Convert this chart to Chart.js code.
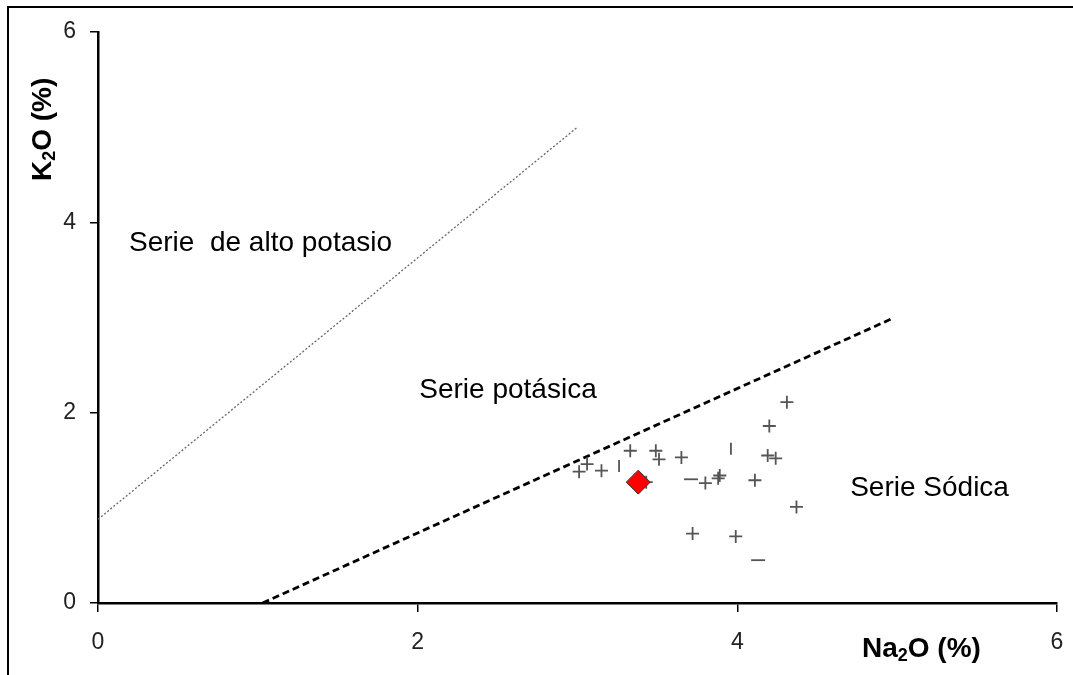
<!DOCTYPE html>
<html>
<head>
<meta charset="utf-8">
<script src="https://cdn.jsdelivr.net/npm/chart.js@4.4.1/dist/chart.umd.min.js"></script>
<style>
  html, body { margin: 0; padding: 0; background: #fff; }
  #wrap { position: relative; width: 1073px; height: 675px; }
</style>
</head>
<body>
<div id="wrap"><canvas id="c"></canvas></div>
<script>
// ---- data (Na2O %, K2O %) ----
const sampleNa2O = [4.31, 4.20, 4.19, 4.24, 3.33, 3.49, 3.51, 3.65, 3.15, 3.01, 3.06, 3.80, 3.88, 3.89, 4.11, 4.37, 3.72, 3.99, 3.43];
const sampleK2O  = [2.11, 1.86, 1.55, 1.52, 1.60, 1.60, 1.51, 1.53, 1.39, 1.38, 1.46, 1.26, 1.31, 1.34, 1.29, 1.01, 0.73, 0.70, 1.27];
const dashNa2O = [3.71, 4.13];
const dashK2O  = [1.30, 0.45];
const tickNa2O = [3.96, 3.26];
const tickK2O  = [1.62, 1.44];
const studyNa2O = [3.38];
const studyK2O  = [1.27];
const highKLineNa2O = [0, 3.0];
const highKLineK2O  = [0.88, 5.0];
const sodicLineNa2O = [1.03, 4.97];
const sodicLineK2O  = [0, 2.99];
const axisTicks = [0, 2, 4, 6];
const fieldLabels = ["Serie  de alto potasio", "Serie potásica", "Serie Sódica"];
const fieldLabelNa2O = [0.194, 2.01, 4.706];
const fieldLabelK2O  = [3.703, 2.153, 1.12];

const pts = (xs, ys) => xs.map((x, i) => ({ x: x, y: ys[i] }));

const textPlugin = {
  id: 'texts',
  beforeDraw(chart) {
    const ctx = chart.ctx;
    ctx.save();
    ctx.strokeStyle = '#000';
    ctx.lineWidth = 2;
    ctx.beginPath();
    ctx.moveTo(8, 675); ctx.lineTo(8, 7); ctx.lineTo(1073, 7);
    ctx.stroke();
    ctx.restore();
  },
  afterDraw(chart) {
    const ctx = chart.ctx;
    const xs = chart.scales.x, ys = chart.scales.y, a = chart.chartArea;
    ctx.save();
    ctx.fillStyle = '#000';
    ctx.textBaseline = 'alphabetic';
    ctx.textAlign = 'left';
    ctx.font = '28px "Liberation Sans", Arial, sans-serif';
    fieldLabels.forEach((t, i) => {
      ctx.fillText(t, xs.getPixelForValue(fieldLabelNa2O[i]), ys.getPixelForValue(fieldLabelK2O[i]));
    });
    const drawSub = (parts, x, y) => {
      let cx = x;
      parts.forEach(p => {
        ctx.font = p.sub ? 'bold 18px "Liberation Sans", Arial, sans-serif' : 'bold 28px "Liberation Sans", Arial, sans-serif';
        ctx.fillText(p.t, cx, y + (p.sub ? 4 : 0));
        cx += ctx.measureText(p.t).width;
      });
    };
    drawSub([{t: 'Na'}, {t: '2', sub: true}, {t: 'O (%)'}], a.right - 195, a.bottom + 54);
    ctx.save();
    ctx.translate(a.left - 47, a.top + 149);
    ctx.rotate(-Math.PI / 2);
    drawSub([{t: 'K'}, {t: '2', sub: true}, {t: 'O (%)'}], 0, 0);
    ctx.restore();
    ctx.restore();
  }
};

const tickFont = { family: '"Liberation Sans", Arial, sans-serif', size: 23 };

new Chart(document.getElementById('c'), {
  type: 'scatter',
  data: {
    datasets: [
      { label: 'Muestra', data: pts(studyNa2O, studyK2O), pointStyle: 'rectRot', pointRadius: 12,
        backgroundColor: '#ff0000', borderColor: '#333', borderWidth: 1, order: 0 },
      { label: 'Rocas', data: pts(sampleNa2O, sampleK2O), pointStyle: 'cross', pointRadius: 6.5,
        borderColor: '#555', borderWidth: 1.8, order: 1 },
      { label: 'Rocas b', data: pts(dashNa2O, dashK2O), pointStyle: 'line', pointRadius: 7,
        borderColor: '#555', borderWidth: 1.8, order: 1 },
      { label: 'Rocas c', data: pts(tickNa2O, tickK2O), pointStyle: 'line', pointRotation: 90, pointRadius: 6,
        borderColor: '#555', borderWidth: 1.8, order: 1 },
      { type: 'line', label: 'alto K', data: pts(highKLineNa2O, highKLineK2O), showLine: true, pointRadius: 0,
        borderColor: '#666', borderWidth: 1.3, borderDash: [2, 2], fill: false, order: 2 },
      { type: 'line', label: 'sodica', data: pts(sodicLineNa2O, sodicLineK2O), showLine: true, pointRadius: 0,
        borderColor: '#000', borderWidth: 2.8, borderDash: [7, 4], fill: false, order: 2 }
    ]
  },
  options: {
    responsive: true,
    maintainAspectRatio: false,
    animation: false,
    events: [],
    layout: { autoPadding: false, padding: { left: 0, top: 32, right: 16, bottom: 0 } },
    plugins: { legend: { display: false }, tooltip: { enabled: false } },
    scales: {
      x: {
        type: 'linear', min: 0, max: 6,
        afterBuildTicks: s => { s.ticks = axisTicks.map(v => ({ value: v })); },
        afterFit: s => { s.height = 72; s.paddingRight = 0; s.paddingLeft = 0; },
        ticks: { font: tickFont, color: '#222', padding: 17, maxRotation: 0 },
        grid: { display: true, drawOnChartArea: false, drawTicks: true, tickLength: 9, color: '#000', lineWidth: 1.5 },
        border: { display: true, color: '#000', width: 2.5 }
      },
      y: {
        type: 'linear', min: 0, max: 6,
        afterBuildTicks: s => { s.ticks = axisTicks.map(v => ({ value: v })); },
        afterFit: s => { s.width = 98; s.paddingTop = 0; s.paddingBottom = 0; },
        ticks: { font: tickFont, color: '#222', padding: 14 },
        grid: { display: true, drawOnChartArea: false, drawTicks: true, tickLength: 8, color: '#000', lineWidth: 1.5 },
        border: { display: true, color: '#000', width: 2.5 }
      }
    }
  },
  plugins: [textPlugin]
});
</script>
</body>
</html>
